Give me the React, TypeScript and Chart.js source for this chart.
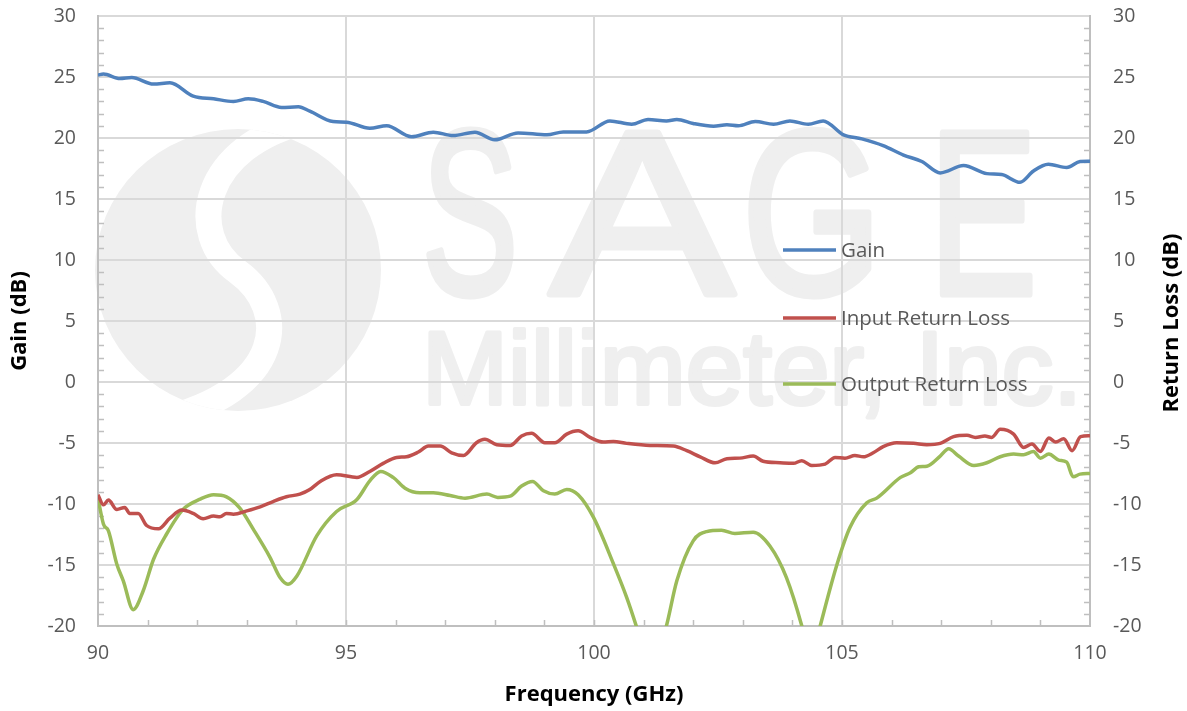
import React, { useEffect, useRef } from 'react';
import { Chart, registerables } from 'chart.js';

Chart.register(...registerables);

// ---------- data ----------
const gainFreq = [90.0, 90.11, 90.44, 90.68, 91.12, 91.45, 91.92, 92.33, 92.73, 93.03, 93.33, 93.7, 94.04, 94.27, 94.74, 95.01, 95.48, 95.82, 96.32, 96.76, 97.16, 97.6, 98.0, 98.47, 99.05, 99.38, 99.85, 100.32, 100.76, 101.09, 101.46, 101.67, 102.0, 102.41, 102.68, 102.91, 103.25, 103.62, 103.95, 104.32, 104.62, 105.03, 105.4, 105.83, 106.24, 106.61, 106.98, 107.45, 107.92, 108.22, 108.59, 108.86, 109.16, 109.53, 109.8, 110.0];
const gainDb = [25.16, 25.24, 24.88, 24.96, 24.42, 24.53, 23.43, 23.21, 23.0, 23.21, 23.0, 22.5, 22.56, 22.2, 21.35, 21.3, 20.8, 21.0, 20.1, 20.48, 20.2, 20.48, 19.85, 20.42, 20.26, 20.5, 20.5, 21.4, 21.13, 21.52, 21.4, 21.52, 21.19, 20.97, 21.08, 21.0, 21.35, 21.13, 21.4, 21.13, 21.4, 20.26, 19.93, 19.38, 18.6, 18.07, 17.14, 17.74, 17.08, 17.0, 16.37, 17.3, 17.85, 17.58, 18.07, 18.1];

const inputFreq = [90.0, 90.11, 90.21, 90.38, 90.54, 90.64, 90.81, 90.98, 91.22, 91.45, 91.69, 91.92, 92.12, 92.33, 92.46, 92.59, 92.73, 93.0, 93.27, 93.53, 93.8, 94.07, 94.27, 94.48, 94.81, 95.22, 95.48, 95.75, 96.02, 96.22, 96.46, 96.66, 96.9, 97.13, 97.37, 97.63, 97.8, 98.04, 98.31, 98.54, 98.74, 99.01, 99.21, 99.45, 99.68, 99.92, 100.19, 100.39, 100.66, 101.13, 101.6, 101.87, 102.14, 102.44, 102.68, 102.94, 103.21, 103.41, 103.75, 104.02, 104.19, 104.39, 104.66, 104.86, 105.06, 105.26, 105.43, 105.63, 105.83, 106.1, 106.44, 106.71, 106.98, 107.25, 107.52, 107.69, 107.88, 108.02, 108.19, 108.46, 108.66, 108.83, 109.0, 109.17, 109.31, 109.47, 109.64, 109.81, 110.0];
const inputDb = [-9.24, -10.07, -9.68, -10.45, -10.28, -10.77, -10.77, -11.76, -12.03, -11.16, -10.5, -10.77, -11.21, -10.99, -11.05, -10.77, -10.83, -10.56, -10.23, -9.8, -9.41, -9.19, -8.81, -8.15, -7.6, -7.82, -7.33, -6.67, -6.18, -6.13, -5.74, -5.25, -5.25, -5.8, -6.02, -4.98, -4.7, -5.14, -5.2, -4.43, -4.21, -4.98, -4.98, -4.27, -4.0, -4.54, -4.92, -4.87, -5.03, -5.2, -5.25, -5.63, -6.13, -6.62, -6.29, -6.24, -6.07, -6.5, -6.62, -6.67, -6.45, -6.84, -6.73, -6.18, -6.24, -6.02, -6.13, -5.8, -5.3, -4.98, -5.03, -5.14, -5.03, -4.48, -4.37, -4.54, -4.43, -4.54, -3.88, -4.27, -5.36, -5.09, -5.69, -4.6, -4.92, -4.65, -5.63, -4.48, -4.4];

const outputFreq = [90.0, 90.11, 90.21, 90.38, 90.51, 90.71, 90.91, 91.12, 91.38, 91.72, 92.06, 92.33, 92.59, 92.86, 93.13, 93.47, 93.67, 93.83, 94.01, 94.41, 94.81, 95.22, 95.48, 95.7, 95.95, 96.19, 96.49, 96.76, 97.1, 97.4, 97.84, 98.06, 98.31, 98.54, 98.76, 98.98, 99.21, 99.45, 99.68, 99.99, 100.39, 100.66, 100.86, 101.15, 101.46, 101.67, 102.0, 102.27, 102.57, 102.84, 103.21, 103.55, 103.88, 104.19, 104.37, 104.56, 104.9, 105.16, 105.5, 105.7, 106.18, 106.38, 106.55, 106.71, 106.98, 107.15, 107.35, 107.66, 107.92, 108.19, 108.46, 108.66, 108.86, 109.0, 109.17, 109.37, 109.53, 109.66, 109.8, 110.0];
const outputDb = [-9.52, -11.65, -12.2, -14.94, -16.3, -18.66, -17.13, -14.53, -12.48, -10.42, -9.6, -9.24, -9.41, -10.34, -12.06, -14.39, -16.03, -16.58, -15.9, -12.61, -10.61, -9.63, -8.1, -7.33, -7.82, -8.7, -9.08, -9.08, -9.3, -9.52, -9.19, -9.46, -9.36, -8.53, -8.15, -8.92, -9.19, -8.81, -9.24, -11.1, -14.88, -17.67, -20.1, -24, -20, -16.3, -13.02, -12.26, -12.15, -12.42, -12.31, -13.46, -16.03, -20, -23, -20, -14.94, -11.93, -9.9, -9.52, -7.82, -7.44, -6.95, -6.9, -6.07, -5.47, -6.07, -6.84, -6.62, -6.13, -5.91, -5.96, -5.69, -6.24, -5.91, -6.4, -6.57, -7.77, -7.55, -7.5];

const seriesLabels = ['Gain', 'Input Return Loss', 'Output Return Loss'];
const seriesColors = ['#4f81bd', '#c0504d', '#9bbb59'];

const xMin = 90;
const xMax = 110;
const xStep = 5;
const yMin = -20;
const yMax = 30;
const yStep = 5;

const xTitle = 'Frequency (GHz)';
const yLeftTitle = 'Gain (dB)';
const yRightTitle = 'Return Loss (dB)';
const watermarkBig = ['S', 'A', 'G', 'E'];
const watermarkSmall = 'Millimeter, Inc.';

const FONT = '"Open Sans", Lato, sans-serif';

export default function App() {
  const ref = useRef<HTMLCanvasElement | null>(null);

  useEffect(() => {
    if (!ref.current) return;
    const toXY = (xs: number[], ys: number[]) => xs.map((x, i) => ({ x, y: ys[i] }));

    const watermark = {
      id: 'watermark',
      beforeDraw(chart: any) {
        const ctx = chart.ctx as CanvasRenderingContext2D;
        ctx.save();
        const wm = '#efefef';
        // logo
        ctx.save();
        ctx.fillStyle = wm;
        ctx.beginPath();
        ctx.ellipse(238, 270, 143, 141, 0, 0, Math.PI * 2);
        ctx.fill();
        ctx.clip();
        ctx.strokeStyle = '#ffffff';
        ctx.lineCap = 'butt';
        ctx.lineWidth = 26;
        ctx.beginPath();
        ctx.moveTo(310, 120);
        ctx.bezierCurveTo(200, 145, 185, 235, 238, 272);
        ctx.bezierCurveTo(290, 310, 285, 390, 160, 420);
        ctx.stroke();
        ctx.restore();
        // big letters
        ctx.fillStyle = wm;
        ctx.strokeStyle = wm;
        ctx.lineJoin = 'round';
        ctx.lineWidth = 7;
        ctx.textBaseline = 'alphabetic';
        ctx.textAlign = 'center';
        ctx.font = '234px "Liberation Sans", sans-serif';
        const centers = [470, 642, 812, 983];
        const widths = [96, 184, 140, 108];
        watermarkBig.forEach((ch, i) => {
          const w = ctx.measureText(ch).width;
          ctx.save();
          ctx.translate(centers[i], 294);
          ctx.scale(widths[i] / w, 1);
          ctx.fillText(ch, 0, 0);
          ctx.strokeText(ch, 0, 0);
          ctx.restore();
        });
        // small line
        ctx.font = '103px "Liberation Sans", sans-serif';
        ctx.textAlign = 'left';
        ctx.lineWidth = 4;
        const w2 = ctx.measureText(watermarkSmall).width;
        ctx.save();
        ctx.translate(422, 404);
        ctx.scale(660 / w2, 1);
        ctx.fillText(watermarkSmall, 0, 0);
        ctx.strokeText(watermarkSmall, 0, 0);
        ctx.restore();
        ctx.restore();
      },
    };

    const extras = {
      id: 'extras',
      beforeDatasetsDraw(chart: any) {
        const ctx = chart.ctx as CanvasRenderingContext2D;
        const xs = chart.scales.x;
        const yl = chart.scales.y;
        const area = chart.chartArea;
        ctx.save();
        ctx.strokeStyle = '#bfbfbf';
        ctx.lineWidth = 1.5;
        ctx.beginPath();
        for (let v = xMin + 1; v < xMax; v++) {
          const px = Math.round(xs.getPixelForValue(v)) + 0.5;
          ctx.moveTo(px, area.bottom);
          ctx.lineTo(px, area.bottom - 6);
        }
        for (let v = yMin + 1; v < yMax; v++) {
          if (v % yStep === 0) continue;
          const py = Math.round(yl.getPixelForValue(v)) + 0.5;
          ctx.moveTo(area.left, py);
          ctx.lineTo(area.left + 6, py);
          ctx.moveTo(area.right, py);
          ctx.lineTo(area.right - 6, py);
        }
        ctx.stroke();
        ctx.restore();
      },
      afterDatasetsDraw(chart: any) {
        const ctx = chart.ctx as CanvasRenderingContext2D;
        ctx.save();
        // legend
        const rows = [250, 318, 384];
        chart.data.datasets.forEach((ds: any, i: number) => {
          ctx.strokeStyle = ds.borderColor;
          ctx.lineWidth = 3.5;
          ctx.beginPath();
          ctx.moveTo(783, rows[i]);
          ctx.lineTo(836, rows[i]);
          ctx.stroke();
          ctx.fillStyle = '#595959';
          ctx.font = `20.5px ${FONT}`;
          ctx.textAlign = 'left';
          ctx.textBaseline = 'middle';
          ctx.fillText(ds.label, 841, rows[i] + 1);
        });
        // right axis title (reads bottom-to-top)
        const area = chart.chartArea;
        ctx.fillStyle = '#000000';
        ctx.font = `bold 22px ${FONT}`;
        ctx.textAlign = 'center';
        ctx.textBaseline = 'middle';
        ctx.translate(1172, (area.top + area.bottom) / 2 + 2);
        ctx.rotate(-Math.PI / 2);
        ctx.fillText(yRightTitle, 0, 0);
        ctx.restore();
      },
    };

    const tickFont = { family: FONT, size: 19.5 };
    const titleFont = { family: FONT, size: 22, weight: 'bold' as const };
    const noVPad = (w: number) => (s: any) => {
      s.width = w;
      s.paddingTop = 0;
      s.paddingBottom = 0;
    };

    const chart = new Chart(ref.current, {
      type: 'line',
      data: {
        datasets: [
          { label: seriesLabels[0], data: toXY(gainFreq, gainDb), yAxisID: 'y' },
          { label: seriesLabels[1], data: toXY(inputFreq, inputDb), yAxisID: 'y2' },
          { label: seriesLabels[2], data: toXY(outputFreq, outputDb), yAxisID: 'y2' },
        ].map((d, i) => ({
          ...d,
          borderColor: seriesColors[i],
          backgroundColor: seriesColors[i],
          borderWidth: 3.5,
          pointRadius: 0,
          cubicInterpolationMode: 'monotone' as const,
          fill: false,
        })),
      },
      options: {
        animation: false,
        responsive: true,
        maintainAspectRatio: false,
        layout: { padding: { top: 16, left: 0, right: 0, bottom: 0 } },
        plugins: { legend: { display: false }, tooltip: { enabled: false } },
        scales: {
          x: {
            type: 'linear',
            min: xMin,
            max: xMax,
            afterFit: (s: any) => { s.height = 85; s.paddingLeft = 0; s.paddingRight = 0; },
            ticks: { stepSize: xStep, font: tickFont, color: '#595959', padding: 16 },
            grid: { color: '#d9d9d9', lineWidth: 2, drawTicks: false },
            border: { color: '#bfbfbf', width: 2 },
            title: { display: true, text: xTitle, font: titleFont, color: '#000000', padding: { top: 0, bottom: 3 } },
          },
          y: {
            type: 'linear',
            position: 'left',
            min: yMin,
            max: yMax,
            afterFit: noVPad(98),
            ticks: { stepSize: yStep, font: tickFont, color: '#595959', padding: 22 },
            grid: { color: '#d9d9d9', lineWidth: 2, drawTicks: false },
            border: { color: '#bfbfbf', width: 2 },
            title: { display: true, text: yLeftTitle, font: titleFont, color: '#000000', padding: { top: 7, bottom: 0 } },
          },
          y2: {
            type: 'linear',
            position: 'right',
            min: yMin,
            max: yMax,
            afterFit: noVPad(97),
            ticks: { stepSize: yStep, font: tickFont, color: '#595959', padding: 23 },
            grid: { display: false, drawTicks: false },
            border: { color: '#bfbfbf', width: 2 },
          },
        },
      },
      plugins: [watermark, extras],
    });
    return () => chart.destroy();
  }, []);

  return (
    <div style={{ position: 'fixed', left: 0, top: 0, width: 1187, height: 711, background: '#ffffff' }}>
      <canvas ref={ref} />
    </div>
  );
}
